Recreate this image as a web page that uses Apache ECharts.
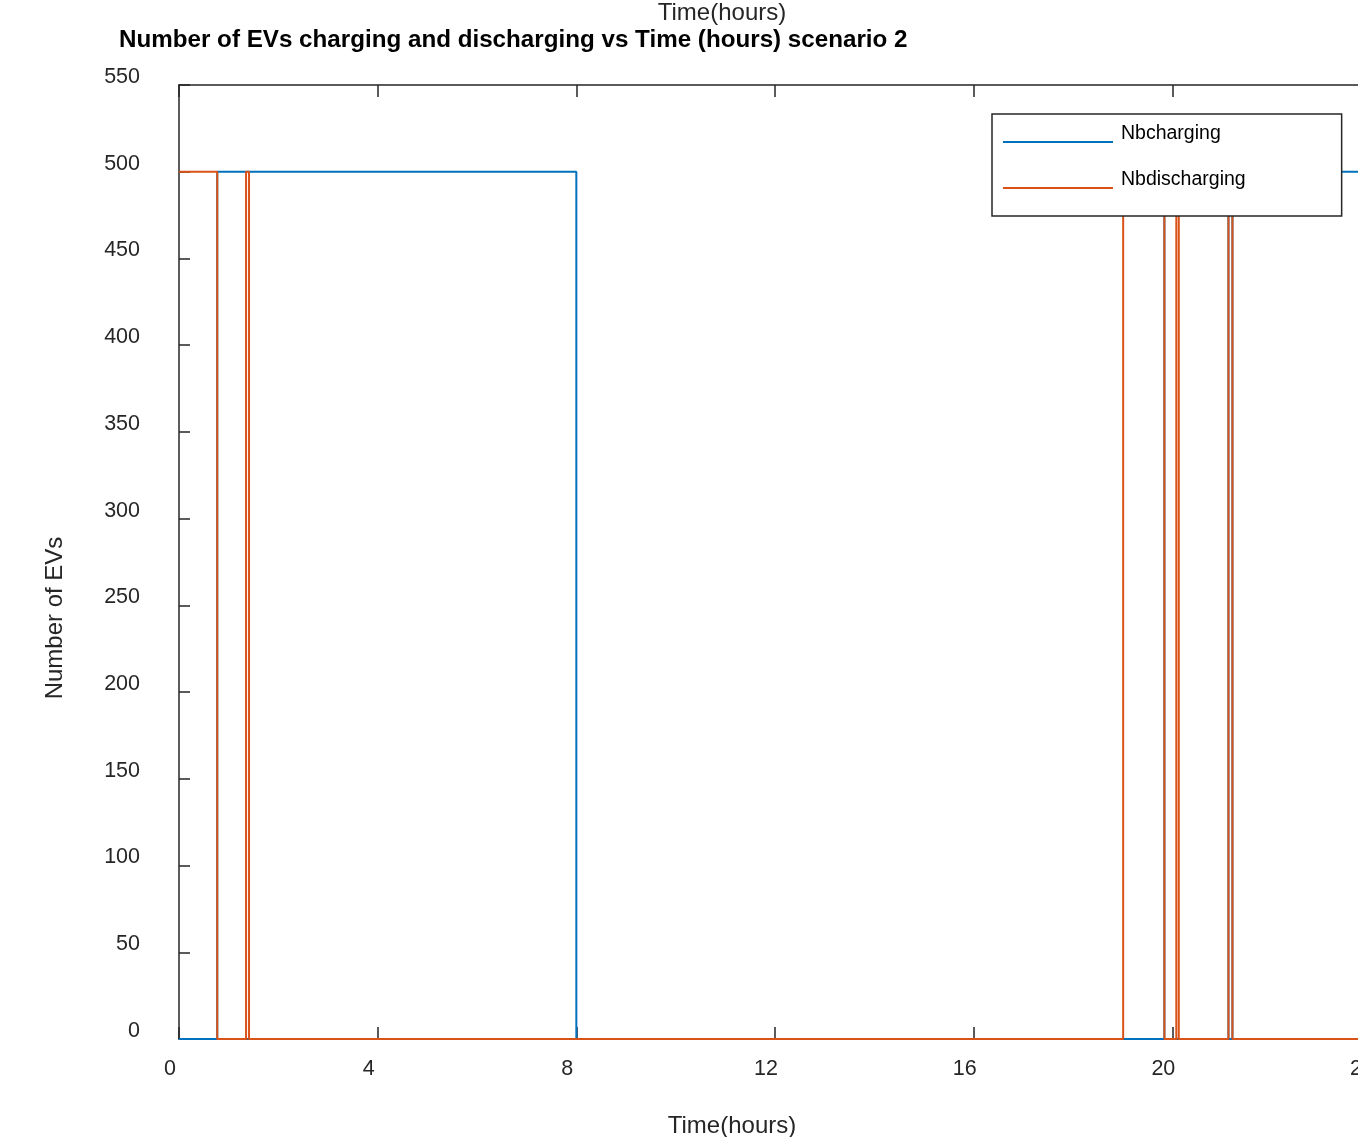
<!DOCTYPE html>
<html>
<head>
<meta charset="utf-8">
<script src="https://cdn.jsdelivr.net/npm/echarts@6/dist/echarts.min.js"></script>
<style>
  html, body { margin: 0; padding: 0; background: #fff; }
  #chart { width: 1358px; height: 1137px; }
</style>
</head>
<body>
<div id="chart"></div>
<script>
// step breakpoints: value holds from this time until the next one
var chargeTimes = [0, 0.77, 8.0, 19.84, 21.13, 21.21, 24];
var chargeValues = [0, 500, 0, 500, 0, 500, 500];
var dischargeTimes = [0, 0.77, 1.35, 1.41, 19.01, 19.84, 20.08, 20.13, 21.13, 21.21, 24];
var dischargeValues = [500, 0, 500, 0, 500, 0, 500, 0, 500, 0, 0];
var xTicks = [0, 4, 8, 12, 16, 20, 24];
var yTicks = [0, 50, 100, 150, 200, 250, 300, 350, 400, 450, 500, 550];

function pairs(t, v) {
  var out = [];
  for (var i = 0; i < t.length; i++) out.push([t[i], v[i]]);
  return out;
}

var axisColor = '#262626';
var font = 'Liberation Sans, Arial, sans-serif';

var chartDom = document.getElementById('chart');
var myChart = echarts.init(chartDom);
var option;
option = {
  animation: false,
  color: ['#0072BD', '#D95319'],
  title: {
    text: 'Number of EVs charging and discharging vs Time (hours) scenario 2',
    left: 119,
    top: 28,
    padding: 0,
    textStyle: { fontFamily: font, fontSize: 24.2, fontWeight: 'bold', color: '#000' }
  },
  legend: {
    orient: 'vertical',
    left: 992,
    top: 114,
    padding: [10, 96, 10, 11],
    itemGap: 10,
    itemWidth: 110,
    itemHeight: 2,
    icon: 'rect',
    backgroundColor: '#fff',
    borderColor: axisColor,
    borderWidth: 1.5,
    borderRadius: 0,
    z: 10,
    // empty second line lifts the name above the line sample
    formatter: function (name) { return name + '\n '; },
    textStyle: { fontFamily: font, fontSize: 19.5, lineHeight: 16, color: '#000', padding: [0, 0, 0, 3] },
    data: ['Nbcharging', 'Nbdischarging']
  },
  grid: { left: 179, top: 85, right: -13, bottom: 98, outerBoundsMode: 'none', containLabel: false },
  xAxis: [
    {
      type: 'value',
      position: 'bottom',
      min: xTicks[0],
      max: xTicks[xTicks.length - 1],
      interval: 4,
      name: 'Time(hours)',
      nameLocation: 'middle',
      nameGap: 75,
      nameTextStyle: { fontFamily: font, fontSize: 24, color: '#262626', padding: [0, 86, 0, 0] },
      axisLine: { lineStyle: { color: axisColor, width: 1.5 } },
      axisTick: { inside: true, length: 12, lineStyle: { color: axisColor, width: 1.5 } },
      axisLabel: { fontFamily: font, fontSize: 21.5, color: '#262626', margin: 19, padding: [0, 18, 0, 0] },
      splitLine: { show: false }
    },
    {
      type: 'value',
      position: 'top',
      min: xTicks[0],
      max: xTicks[xTicks.length - 1],
      interval: 4,
      name: 'Time(hours)',
      nameLocation: 'middle',
      nameGap: 60,
      nameTextStyle: { fontFamily: font, fontSize: 24, color: '#262626', padding: [0, 106, 0, 0] },
      axisLine: { lineStyle: { color: axisColor, width: 1.5 } },
      axisTick: { inside: true, length: 12, lineStyle: { color: axisColor, width: 1.5 } },
      axisLabel: { show: false },
      splitLine: { show: false }
    }
  ],
  yAxis: {
    type: 'value',
    min: yTicks[0],
    max: yTicks[yTicks.length - 1],
    interval: 50,
    name: 'Number of EVs',
    nameLocation: 'middle',
    nameGap: 112,
    nameTextStyle: { fontFamily: font, fontSize: 24, color: '#262626', padding: [0, 112, 0, 0] },
    axisLine: { show: true, lineStyle: { color: axisColor, width: 1.5 } },
    axisTick: { show: true, inside: true, length: 11, lineStyle: { color: axisColor, width: 1.5 } },
    axisLabel: { fontFamily: font, fontSize: 21.5, color: '#262626', margin: 39, verticalAlign: 'bottom', lineHeight: 16 },
    splitLine: { show: false }
  },
  series: [
    {
      name: 'Nbcharging',
      type: 'line',
      step: 'end',
      showSymbol: false,
      symbol: 'none',
      lineStyle: { width: 2 },
      data: pairs(chargeTimes, chargeValues)
    },
    {
      name: 'Nbdischarging',
      type: 'line',
      step: 'end',
      showSymbol: false,
      symbol: 'none',
      lineStyle: { width: 2 },
      data: pairs(dischargeTimes, dischargeValues)
    }
  ]
};
option && myChart.setOption(option);
</script>
</body>
</html>
